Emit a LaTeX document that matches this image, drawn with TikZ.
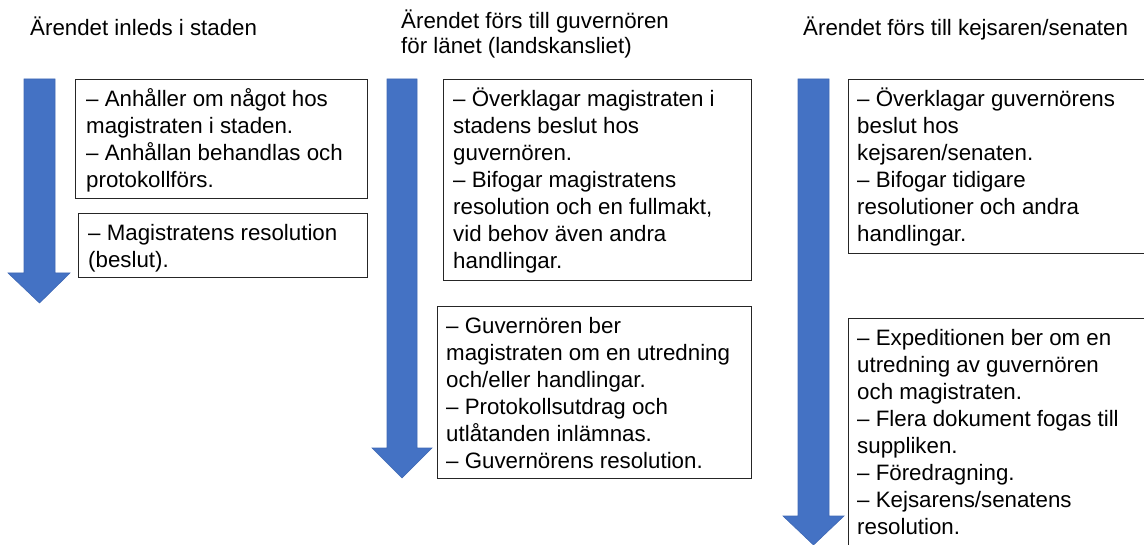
\documentclass[tikz,border=0pt]{standalone}
\usepackage{fontspec}
\setmainfont{Liberation Sans}
\definecolor{arrblue}{HTML}{4472C4}
\definecolor{arredge}{HTML}{3F68B4}
\newcommand\fstrut{\rule{0pt}{21pt}}
\begin{document}
\begin{tikzpicture}[x=1pt,y=-1pt,
  box/.style={draw=black!85, line width=1.1pt, inner sep=0pt, anchor=north west},
  txt/.style={inner sep=0pt, anchor=north west, align=left, font=\fontsize{22.3}{27}\selectfont},
  head/.style={inner sep=0pt, anchor=base west, align=left, font=\fontsize{22.3}{25}\selectfont},
  downarrow/.style={fill=arrblue, draw=arredge, line width=0.6pt, line join=miter}]
\useasboundingbox (0,0) rectangle (1144,545);
\clip (0,0) rectangle (1144,545);

% headings
\node[head] (h1) at (30,36) {Ärendet inleds i staden};
\node[head] (h2) at (401,29) {Ärendet förs till guvernören};
\node[head] (h2b) at (401,54) {för länet (landskansliet)};
\node[head] (h3) at (803,36) {Ärendet förs till kejsaren/senaten};

% arrows
\draw[downarrow] (24,79) -- (55,79) -- (55,273) -- (70,273) -- (39.5,303) -- (8,273) -- (24,273) -- cycle;
\draw[downarrow] (387,79) -- (417,79) -- (417,448) -- (432,448) -- (402,478) -- (372,448) -- (387,448) -- cycle;
\draw[downarrow] (798,79) -- (829,79) -- (829,516) -- (844,516) -- (813.5,545) -- (783,516) -- (798,516) -- cycle;

% boxes
\node[box, minimum width=292pt, minimum height=119pt] (b1a) at (75,79) {};
\node[box, minimum width=289pt, minimum height=64pt] (b1b) at (78,213) {};
\node[box, minimum width=308pt, minimum height=201pt] (b2a) at (443,79) {};
\node[box, minimum width=314pt, minimum height=172pt] (b2b) at (437,306) {};
\node[box, minimum width=310pt, minimum height=174pt] (b3a) at (848,79) {};
\node[box, minimum width=310pt, minimum height=250pt] (b3b) at (848,318) {};

% texts
\node[txt] (t1a) at ([xshift=11pt,yshift=-6pt]b1a.north west) {\fstrut– Anhåller om något hos\\magistraten i staden.\\– Anhållan behandlas och\\protokollförs.};
\node[txt] (t1b) at ([xshift=10pt,yshift=-6pt]b1b.north west) {\fstrut– Magistratens resolution\\(beslut).};
\node[txt] (t2a) at ([xshift=10pt,yshift=-6pt]b2a.north west) {\fstrut– Överklagar magistraten i\\stadens beslut hos\\guvernören.\\– Bifogar magistratens\\resolution och en fullmakt,\\vid behov även andra\\handlingar.};
\node[txt] (t2b) at ([xshift=9pt,yshift=-6pt]b2b.north west) {\fstrut– Guvernören ber\\magistraten om en utredning\\och/eller handlingar.\\– Protokollsutdrag och\\utlåtanden inlämnas.\\– Guvernörens resolution.};
\node[txt] (t3a) at ([xshift=9pt,yshift=-6pt]b3a.north west) {\fstrut– Överklagar guvernörens\\beslut hos\\kejsaren/senaten.\\– Bifogar tidigare\\resolutioner och andra\\handlingar.};
\node[txt] (t3b) at ([xshift=9pt,yshift=-6pt]b3b.north west) {\fstrut– Expeditionen ber om en\\utredning av guvernören\\och magistraten.\\– Flera dokument fogas till\\suppliken.\\– Föredragning.\\– Kejsarens/senatens\\resolution.};
\end{tikzpicture}
\end{document}
